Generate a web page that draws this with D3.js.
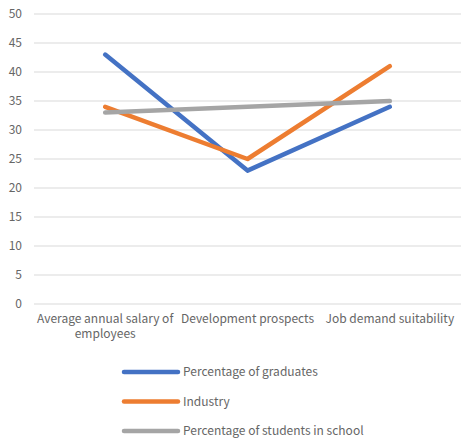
<!DOCTYPE html>
<html>
<head>
<meta charset="utf-8">
<script src="https://cdn.jsdelivr.net/npm/d3@7"></script>
<style>
  body { margin: 0; background: #fff; }
  text { font-family: "Noto Sans CJK SC", "Noto Sans", sans-serif; fill: #666666; }
</style>
</head>
<body>
<svg></svg>
<script>
const categories = ['Average annual salary of employees', 'Development prospects', 'Job demand suitability'];
const graduates = [43, 23, 34];
const industry = [34, 25, 41];
const students = [33, 34, 35];
const yTicks = [0, 5, 10, 15, 20, 25, 30, 35, 40, 45, 50];

const seriesNames = ['Percentage of graduates', 'Industry', 'Percentage of students in school'];
const colors = ['#4472C4', '#ED7D31', '#A5A5A5'];

const width = 461;
const height = 441;

let svg = d3.select('svg')
    .attr('width', width)
    .attr('height', height);

let xScale = d3.scaleBand()
    .domain(categories)
    .range([34, 461]);

let yScale = d3.scaleLinear()
    .domain([0, 50])
    .range([304, 14]);

// gridlines
svg.append('g')
    .selectAll('line')
    .data(yTicks)
    .enter()
    .append('line')
    .attr('x1', 34)
    .attr('x2', 461)
    .attr('y1', d => yScale(d))
    .attr('y2', d => yScale(d))
    .attr('stroke', '#D9D9D9')
    .attr('stroke-width', 1);

// y axis labels
let yAxis = d3.axisLeft(yScale).tickValues(yTicks).tickSize(0).tickPadding(12);
let yg = svg.append('g')
    .attr('transform', 'translate(34, 0)')
    .call(yAxis);
yg.select('.domain').remove();
yg.selectAll('text').style('font-size', '12px').attr('fill', '#666666');

// x axis labels
let xAxis = d3.axisBottom(xScale).tickSize(0).tickPadding(10);
let xg = svg.append('g')
    .attr('transform', 'translate(0, 304)')
    .call(xAxis);
xg.select('.domain').remove();
xg.selectAll('text')
    .style('font-size', '12px')
    .attr('fill', '#666666')
    .each(function (d) {
        let t = d3.select(this);
        if (d === categories[0]) {
            t.text(null);
            t.append('tspan').attr('x', 0).attr('dy', '0.71em').text('Average annual salary of');
            t.append('tspan').attr('x', 0).attr('dy', '1.3em').text('employees');
        }
    });

// lines
const allSeries = [graduates, industry, students];
let line = d3.line()
    .x((d, i) => xScale(categories[i]) + xScale.bandwidth() / 2)
    .y(d => yScale(d));

svg.append('g')
    .selectAll('path')
    .data(allSeries)
    .enter()
    .append('path')
    .attr('d', d => line(d))
    .attr('fill', 'none')
    .attr('stroke', (d, i) => colors[i])
    .attr('stroke-width', 4.5)
    .attr('stroke-linecap', 'round')
    .attr('stroke-linejoin', 'round');

// legend
let legendY = d3.scalePoint()
    .domain(seriesNames)
    .range([372, 431]);

let legend = svg.append('g')
    .selectAll('g')
    .data(seriesNames)
    .enter()
    .append('g')
    .attr('transform', d => 'translate(124, ' + legendY(d) + ')');

legend.append('line')
    .attr('x1', 0)
    .attr('x2', 54)
    .attr('stroke', (d, i) => colors[i])
    .attr('stroke-width', 4.5)
    .attr('stroke-linecap', 'round');

legend.append('text')
    .attr('x', 59)
    .attr('dy', '0.35em')
    .style('font-size', '12px')
    .text(d => d);
</script>
</body>
</html>
